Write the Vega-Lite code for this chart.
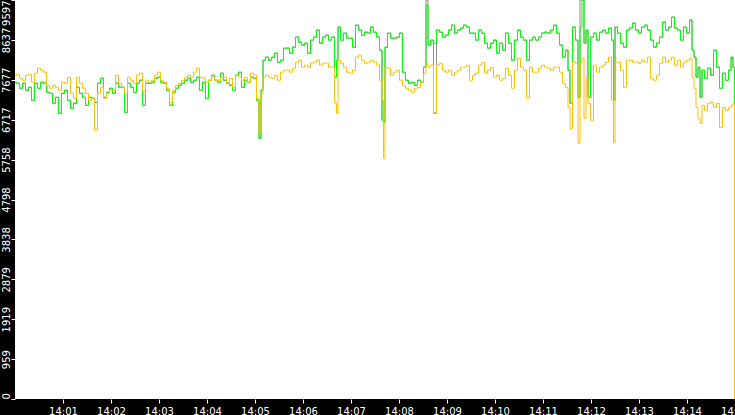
{
"$schema":"https://vega.github.io/schema/vega-lite/v6.json",
"width":720,"height":399,
"autosize":{"type":"none"},
"padding":{"left":15,"top":0,"right":0,"bottom":16},
"background":"black",
"config":{"view":{"fill":"white","stroke":null},
"axis":{"domain":false,"grid":false,"tickColor":"white","tickSize":4,"tickWidth":1,"labelColor":"white","labelFont":"DejaVu Sans","labelFontSize":10,"title":null,"labelOverlap":false}},
"data":{"values":[
{"t":0,"g":7619,"n":7619,"o":7788},
{"t":3.75,"g":7595,"n":7595,"o":7812},
{"t":7.5,"g":7474,"n":7474,"o":7715},
{"t":11.25,"g":7595,"n":7595,"o":7667},
{"t":15,"g":7426,"n":7426,"o":7788},
{"t":18.75,"g":7498,"n":7498,"o":7812},
{"t":22.5,"g":7185,"n":7185,"o":7619},
{"t":26.25,"g":7595,"n":7595,"o":7836},
{"t":30,"g":7474,"n":7474,"o":7957},
{"t":33.75,"g":7619,"n":7619,"o":7908},
{"t":37.5,"g":7595,"n":7595,"o":7860},
{"t":41.25,"g":7378,"n":7378,"o":7546},
{"t":45,"g":7354,"n":7354,"o":7474},
{"t":48.75,"g":7113,"n":7113,"o":7546},
{"t":52.5,"g":7257,"n":7257,"o":7498},
{"t":56.25,"g":6872,"n":6872,"o":7426},
{"t":60,"g":7354,"n":7354,"o":7619},
{"t":63.75,"g":7426,"n":7426,"o":7595},
{"t":67.5,"g":7185,"n":7185,"o":7740},
{"t":71.25,"g":6992,"n":6992,"o":7354},
{"t":75,"g":7113,"n":7113,"o":7233},
{"t":78.75,"g":7498,"n":7498,"o":7740},
{"t":82.5,"g":7354,"n":7354,"o":7595},
{"t":86.25,"g":7257,"n":7257,"o":7474},
{"t":90,"g":7064,"n":7064,"o":7354},
{"t":93.75,"g":7257,"n":7257,"o":7185},
{"t":97.5,"g":7233,"n":7233,"o":7233},
{"t":101.25,"g":7137,"n":7137,"o":6462},
{"t":105,"g":7595,"n":7595,"o":7354},
{"t":108.75,"g":7715,"n":7715,"o":7498},
{"t":112.5,"g":7257,"n":7257,"o":7233},
{"t":116.25,"g":7378,"n":7378,"o":7354},
{"t":120,"g":7474,"n":7474,"o":7426},
{"t":123.75,"g":7354,"n":7354,"o":7426},
{"t":127.5,"g":7595,"n":7595,"o":7788},
{"t":131.25,"g":7498,"n":7498,"o":7595},
{"t":135,"g":7498,"n":7498,"o":7498},
{"t":138.75,"g":6896,"n":6896,"o":7354},
{"t":142.5,"g":7595,"n":7595,"o":7740},
{"t":146.25,"g":7498,"n":7498,"o":7667},
{"t":150,"g":7378,"n":7378,"o":7595},
{"t":153.75,"g":7595,"n":7595,"o":7788},
{"t":157.5,"g":7667,"n":7667,"o":7836},
{"t":161.25,"g":7064,"n":7064,"o":7426},
{"t":165,"g":7595,"n":7595,"o":7667},
{"t":168.75,"g":7595,"n":7595,"o":7619},
{"t":172.5,"g":7619,"n":7619,"o":7667},
{"t":176.25,"g":7715,"n":7715,"o":7788},
{"t":180,"g":7740,"n":7740,"o":7860},
{"t":183.75,"g":7619,"n":7619,"o":7667},
{"t":187.5,"g":7595,"n":7595,"o":7619},
{"t":191.25,"g":7426,"n":7426,"o":7474},
{"t":195,"g":7064,"n":7064,"o":7137},
{"t":198.75,"g":7378,"n":7378,"o":7426},
{"t":202.5,"g":7474,"n":7474,"o":7546},
{"t":206.25,"g":7546,"n":7546,"o":7595},
{"t":210,"g":7595,"n":7595,"o":7667},
{"t":213.75,"g":7667,"n":7667,"o":7740},
{"t":217.5,"g":7715,"n":7715,"o":7788},
{"t":221.25,"g":7619,"n":7619,"o":7740},
{"t":225,"g":7667,"n":7667,"o":7860},
{"t":228.75,"g":7740,"n":7740,"o":7957},
{"t":232.5,"g":7426,"n":7426,"o":7740},
{"t":236.25,"g":7619,"n":7619,"o":7715},
{"t":240,"g":7233,"n":7233,"o":7619},
{"t":243.75,"g":7667,"n":7667,"o":7667},
{"t":247.5,"g":7788,"n":7788,"o":7740},
{"t":251.25,"g":7667,"n":7667,"o":7667},
{"t":255,"g":7619,"n":7619,"o":7667},
{"t":258.75,"g":7836,"n":7836,"o":7740},
{"t":262.5,"g":7667,"n":7667,"o":7740},
{"t":266.25,"g":7595,"n":7595,"o":7595},
{"t":270,"g":7546,"n":7546,"o":7715},
{"t":273.75,"g":7426,"n":7426,"o":7498},
{"t":277.5,"g":7788,"n":7788,"o":7788},
{"t":281.25,"g":7860,"n":7860,"o":7740},
{"t":285,"g":7498,"n":7498,"o":7667},
{"t":288.75,"g":7667,"n":7667,"o":7740},
{"t":292.5,"g":7619,"n":7619,"o":7619},
{"t":296.25,"g":7740,"n":7740,"o":7836},
{"t":300,"g":7715,"n":7715,"o":7788},
{"t":303.75,"g":7185,"n":7185,"o":7233},
{"t":306.25,"g":6269,"n":6269,"o":6389},
{"t":308.75,"g":7426,"n":7426,"o":7354},
{"t":311.25,"g":8149,"n":8149,"o":7740},
{"t":315,"g":8222,"n":8222,"o":7788},
{"t":318.75,"g":8149,"n":8149,"o":7740},
{"t":322.5,"g":8222,"n":8222,"o":7715},
{"t":326.25,"g":8318,"n":8318,"o":7788},
{"t":330,"g":8101,"n":8101,"o":7667},
{"t":333.75,"g":8149,"n":8149,"o":7860},
{"t":337.5,"g":8439,"n":8439,"o":7908},
{"t":341.25,"g":8439,"n":8439,"o":7908},
{"t":345,"g":8318,"n":8318,"o":7860},
{"t":348.75,"g":8463,"n":8463,"o":7957},
{"t":352.5,"g":8704,"n":8704,"o":8101},
{"t":356.25,"g":8583,"n":8583,"o":8149},
{"t":360,"g":8511,"n":8511,"o":7981},
{"t":363.75,"g":8559,"n":8559,"o":8029},
{"t":367.5,"g":8318,"n":8318,"o":7981},
{"t":371.25,"g":8632,"n":8632,"o":8077},
{"t":375,"g":8704,"n":8704,"o":8101},
{"t":378.75,"g":8873,"n":8873,"o":8149},
{"t":382.5,"g":8559,"n":8559,"o":8029},
{"t":386.25,"g":8704,"n":8704,"o":8077},
{"t":390,"g":8752,"n":8752,"o":8077},
{"t":393.75,"g":8632,"n":8632,"o":7981},
{"t":397.5,"g":8704,"n":8704,"o":7981},
{"t":401.25,"g":7740,"n":7740,"o":7113},
{"t":402.5,"g":8149,"n":8149,"o":6872},
{"t":405,"g":8945,"n":8945,"o":8149},
{"t":408.75,"g":8632,"n":8632,"o":8077},
{"t":412.5,"g":8800,"n":8800,"o":7981},
{"t":416.25,"g":8680,"n":8680,"o":7860},
{"t":420,"g":8680,"n":8680,"o":7836},
{"t":423.75,"g":8463,"n":8463,"o":7908},
{"t":427.5,"g":8993,"n":8993,"o":8222},
{"t":431.25,"g":8873,"n":8873,"o":8270},
{"t":435,"g":8752,"n":8752,"o":8149},
{"t":438.75,"g":8824,"n":8824,"o":8077},
{"t":442.5,"g":8800,"n":8800,"o":8101},
{"t":446.25,"g":8945,"n":8945,"o":8149},
{"t":450,"g":8824,"n":8824,"o":8101},
{"t":453.75,"g":8704,"n":8704,"o":8029},
{"t":457.5,"g":8391,"n":8391,"o":7667},
{"t":460,"g":6703,"n":6703,"o":7185},
{"t":461.25,"g":6655,"n":6655,"o":5787},
{"t":463.75,"g":8463,"n":8463,"o":7981},
{"t":467.5,"g":8800,"n":8800,"o":7957},
{"t":471.25,"g":8680,"n":8680,"o":7788},
{"t":475,"g":8680,"n":8680,"o":7860},
{"t":478.75,"g":8704,"n":8704,"o":7908},
{"t":482.5,"g":8800,"n":8800,"o":7667},
{"t":486.25,"g":7860,"n":7860,"o":7546},
{"t":490,"g":7667,"n":7667,"o":7474},
{"t":493.75,"g":7595,"n":7595,"o":7426},
{"t":497.5,"g":7619,"n":7619,"o":7378},
{"t":501.25,"g":7546,"n":7546,"o":7474},
{"t":505,"g":7667,"n":7667,"o":7498},
{"t":508.75,"g":7619,"n":7619,"o":7619},
{"t":512.5,"g":7981,"n":7981,"o":7836},
{"t":515,"g":9596,"n":9475,"o":8077},
{"t":517.5,"g":8511,"n":8511,"o":7981},
{"t":521.25,"g":8632,"n":8632,"o":8029},
{"t":525,"g":6872,"n":8559,"o":6896},
{"t":528.75,"g":8873,"n":8873,"o":8029},
{"t":532.5,"g":8824,"n":8824,"o":8077},
{"t":536.25,"g":8704,"n":8704,"o":7908},
{"t":540,"g":8752,"n":8752,"o":7860},
{"t":543.75,"g":8873,"n":8873,"o":7908},
{"t":547.5,"g":8993,"n":8993,"o":7788},
{"t":551.25,"g":8800,"n":8800,"o":7860},
{"t":555,"g":8873,"n":8873,"o":7908},
{"t":558.75,"g":8921,"n":8921,"o":7981},
{"t":562.5,"g":8993,"n":8993,"o":7981},
{"t":566.25,"g":8945,"n":8945,"o":8029},
{"t":570,"g":8800,"n":8800,"o":7667},
{"t":573.75,"g":8800,"n":8800,"o":7788},
{"t":577.5,"g":8632,"n":8632,"o":7836},
{"t":581.25,"g":8873,"n":8873,"o":8029},
{"t":585,"g":8800,"n":8800,"o":8101},
{"t":588.75,"g":8559,"n":8559,"o":7836},
{"t":592.5,"g":8439,"n":8439,"o":7908},
{"t":596.25,"g":8559,"n":8559,"o":7981},
{"t":600,"g":8632,"n":8632,"o":7740},
{"t":603.75,"g":8318,"n":8318,"o":7788},
{"t":607.5,"g":8559,"n":8559,"o":7667},
{"t":611.25,"g":8391,"n":8391,"o":7715},
{"t":615,"g":8800,"n":8800,"o":7957},
{"t":618.75,"g":8559,"n":8559,"o":7788},
{"t":622.5,"g":8149,"n":8149,"o":7474},
{"t":626.25,"g":8632,"n":8632,"o":7908},
{"t":630,"g":8873,"n":8873,"o":8198},
{"t":633.75,"g":8704,"n":8704,"o":7981},
{"t":637.5,"g":8632,"n":8632,"o":7908},
{"t":641.25,"g":8149,"n":8149,"o":7233},
{"t":645,"g":8632,"n":8632,"o":7981},
{"t":648.75,"g":8704,"n":8704,"o":7860},
{"t":652.5,"g":8632,"n":8632,"o":7860},
{"t":656.25,"g":8704,"n":8704,"o":7957},
{"t":660,"g":8800,"n":8800,"o":8029},
{"t":663.75,"g":8824,"n":8824,"o":7981},
{"t":667.5,"g":8800,"n":8800,"o":7957},
{"t":671.25,"g":8873,"n":8873,"o":7908},
{"t":675,"g":8993,"n":8993,"o":7981},
{"t":678.75,"g":8800,"n":8800,"o":7981},
{"t":682.5,"g":8511,"n":8511,"o":7860},
{"t":686.25,"g":8222,"n":8222,"o":7595},
{"t":690,"g":8391,"n":8391,"o":7498},
{"t":692.5,"g":7908,"n":7908,"o":7016},
{"t":695,"g":7113,"n":7113,"o":6510},
{"t":698.75,"g":8945,"n":8945,"o":8101},
{"t":702.5,"g":8632,"n":8632,"o":8077},
{"t":705,"g":7257,"n":7257,"o":6148},
{"t":707.5,"g":9596,"n":8945,"o":8077},
{"t":710,"g":9596,"n":9596,"o":8198},
{"t":712.5,"g":8559,"n":8559,"o":6751},
{"t":715,"g":8873,"n":8873,"o":7740},
{"t":717.5,"g":7257,"n":7257,"o":7113},
{"t":721.25,"g":8704,"n":8704,"o":6703},
{"t":725,"g":8800,"n":8800,"o":8029},
{"t":728.75,"g":8632,"n":8632,"o":7860},
{"t":732.5,"g":8824,"n":8824,"o":7981},
{"t":736.25,"g":8873,"n":8873,"o":8029},
{"t":740,"g":8800,"n":8800,"o":8101},
{"t":743.75,"g":8921,"n":8921,"o":8222},
{"t":747.5,"g":8632,"n":8632,"o":7185},
{"t":748.75,"g":7185,"n":7185,"o":6172},
{"t":751.25,"g":8945,"n":8945,"o":8101},
{"t":755,"g":8800,"n":8800,"o":8101},
{"t":758.75,"g":8559,"n":8559,"o":7908},
{"t":762.5,"g":8463,"n":8463,"o":7498},
{"t":766.25,"g":8873,"n":8873,"o":8149},
{"t":770,"g":8921,"n":8921,"o":8149},
{"t":773.75,"g":9041,"n":9041,"o":8101},
{"t":777.5,"g":8873,"n":8873,"o":8101},
{"t":781.25,"g":8800,"n":8800,"o":8077},
{"t":785,"g":8945,"n":8945,"o":8149},
{"t":788.75,"g":8993,"n":8993,"o":8101},
{"t":792.5,"g":8873,"n":8873,"o":8222},
{"t":796.25,"g":8632,"n":8632,"o":7715},
{"t":800,"g":8463,"n":8463,"o":7667},
{"t":803.75,"g":8559,"n":8559,"o":7788},
{"t":807.5,"g":8704,"n":8704,"o":8077},
{"t":811.25,"g":9066,"n":9066,"o":8222},
{"t":815,"g":8873,"n":8873,"o":8101},
{"t":818.75,"g":8945,"n":8945,"o":8149},
{"t":822.5,"g":9186,"n":9186,"o":8222},
{"t":826.25,"g":8921,"n":8921,"o":8029},
{"t":830,"g":8873,"n":8873,"o":8149},
{"t":833.75,"g":8632,"n":8632,"o":7981},
{"t":837.5,"g":8945,"n":8945,"o":8101},
{"t":841.25,"g":8800,"n":8800,"o":8149},
{"t":845,"g":9114,"n":9114,"o":8198},
{"t":847.5,"g":8391,"n":8391,"o":7740},
{"t":850,"g":8222,"n":8222,"o":7474},
{"t":852.5,"g":7740,"n":7740,"o":7016},
{"t":855,"g":7981,"n":7981,"o":6751},
{"t":857.5,"g":7257,"n":7257,"o":6631},
{"t":860,"g":7908,"n":7908,"o":7064},
{"t":863.75,"g":7715,"n":7715,"o":6944},
{"t":867.5,"g":7957,"n":7957,"o":7113},
{"t":871.25,"g":7788,"n":7788,"o":7137},
{"t":875,"g":8391,"n":8391,"o":7016},
{"t":878.75,"g":7981,"n":7981,"o":7113},
{"t":882.5,"g":7474,"n":7474,"o":6534},
{"t":886.25,"g":7836,"n":7836,"o":7016},
{"t":890,"g":7667,"n":7667,"o":6944},
{"t":893.75,"g":7908,"n":7908,"o":7016},
{"t":896.25,"g":8222,"n":8222,"o":7064},
{"t":898.75,"g":7981,"n":7981,"o":7113},
{"t":900,"g":3689,"n":3689,"o":0}
]},
"encoding":{
"x":{"field":"t","type":"quantitative","scale":{"domain":[0,900],"nice":false,"zero":false},
"axis":{"values":[60,120,180,240,300,360,420,480,540,600,660,720,780,840,900],"labelExpr":"'14:' + (datum.value < 600 ? '0' : '') + (datum.value/60)","labelPadding":3,"labelFlush":false,"labelOverlap":false}}
},
"layer":[
{"mark":{"type":"line","color":"#8c8c8c","strokeWidth":1,"interpolate":"step"},
"encoding":{"y":{"field":"g","type":"quantitative","scale":{"domain":[0,9597],"nice":false},
"axis":{"values":[0,959,1919,2879,3838,4798,5758,6717,7677,8637,9597],"format":"d","labelAngle":270,"labelBaseline":"bottom","labelPadding":0,"labelOverlap":false,"labelFlush":false,"labelBound":false,
"labelAlign":{"condition":[{"test":"datum.value == 0","value":"left"},{"test":"datum.value == 9597","value":"right"}],"value":"center"}}}}},
{"mark":{"type":"line","color":"#00ff00","strokeWidth":1,"interpolate":"step"},
"encoding":{"y":{"field":"n","type":"quantitative","scale":{"domain":[0,9597],"nice":false},
"axis":{"values":[0,959,1919,2879,3838,4798,5758,6717,7677,8637,9597],"format":"d","labelAngle":270,"labelBaseline":"bottom","labelPadding":0,"labelOverlap":false,"labelFlush":false,"labelBound":false,
"labelAlign":{"condition":[{"test":"datum.value == 0","value":"left"},{"test":"datum.value == 9597","value":"right"}],"value":"center"}}}}},
{"mark":{"type":"line","color":"#ffc000","strokeWidth":1,"interpolate":"step"},
"encoding":{"y":{"field":"o","type":"quantitative","scale":{"domain":[0,9597],"nice":false},
"axis":{"values":[0,959,1919,2879,3838,4798,5758,6717,7677,8637,9597],"format":"d","labelAngle":270,"labelBaseline":"bottom","labelPadding":0,"labelOverlap":false,"labelFlush":false,"labelBound":false,
"labelAlign":{"condition":[{"test":"datum.value == 0","value":"left"},{"test":"datum.value == 9597","value":"right"}],"value":"center"}}}}}
]
}
